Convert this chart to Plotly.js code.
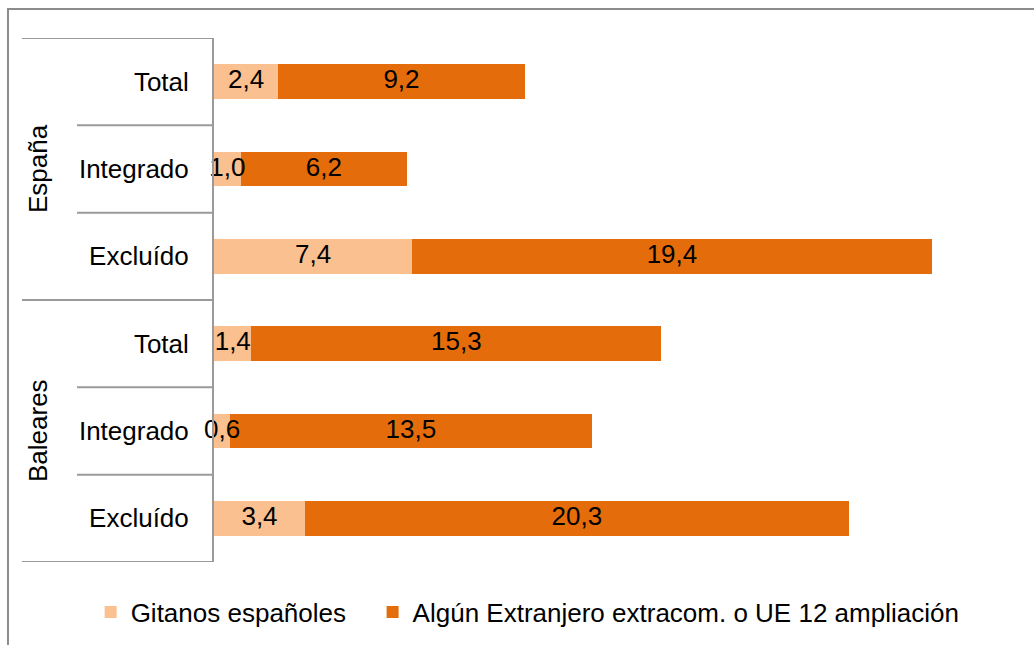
<!DOCTYPE html>
<html>
<head>
<meta charset="utf-8">
<script src="https://cdn.plot.ly/plotly-3.0.1.min.js"></script>
<style>html,body{margin:0;padding:0;background:#fff;}#chart{width:1034px;height:645px;}</style>
</head>
<body>
<div id="chart"></div>
<script>
// Data (top to bottom)
const categories = ["España|Total", "España|Integrado", "España|Excluído", "Baleares|Total", "Baleares|Integrado", "Baleares|Excluído"];
const categoryLabels = ["Total", "Integrado", "Excluído", "Total", "Integrado", "Excluído"];
const groups = ["España", "Baleares"];
const groupCenters = [1, 4];
const seriesNames = ["Gitanos españoles", "Algún Extranjero extracom. o UE 12 ampliación"];
const gitanos = [2.4, 1.0, 7.4, 1.4, 0.6, 3.4];
const extranjero = [9.2, 6.2, 19.4, 15.3, 13.5, 20.3];

const FONT = "Liberation Sans, Arial, sans-serif";
const FS = 26;
const lineColor = "#9a9a9a";

const fmt = v => v.toFixed(1).replace(".", ",");

const traces = [
  {type: "bar", orientation: "h", y: categories, x: gitanos, name: seriesNames[0],
   marker: {color: "#FAC090"}, hoverinfo: "skip", legend: "legend"},
  {type: "bar", orientation: "h", y: categories, x: extranjero, name: seriesNames[1],
   marker: {color: "#E46C0A"}, hoverinfo: "skip", legend: "legend2"},
  // data labels on top of all bars (centred in each segment)
  {type: "scatter", mode: "text", y: categories, x: gitanos.map(g => g / 2),
   text: gitanos.map(fmt), textposition: "middle center", showlegend: false,
   cliponaxis: false, hoverinfo: "skip", textfont: {family: FONT, size: FS, color: "#000"}},
  {type: "scatter", mode: "text", y: categories, x: extranjero.map((e, i) => gitanos[i] + e / 2),
   text: extranjero.map(fmt), textposition: "middle center", showlegend: false,
   cliponaxis: false, hoverinfo: "skip", textfont: {family: FONT, size: FS, color: "#000"}}
];

// separators (paper x, category index y)
const shapes = [];
const gx = -0.2397, cx = -0.171;
[-0.5, 2.5, 5.5].forEach(v => shapes.push({type: "line", xref: "paper", yref: "y", x0: gx, x1: 0, y0: v, y1: v, line: {color: lineColor, width: 2}}));
[0.5, 1.5, 3.5, 4.5].forEach(v => shapes.push({type: "line", xref: "paper", yref: "y", x0: cx, x1: 0, y0: v, y1: v, line: {color: lineColor, width: 2}}));
// outer chart border (partly cropped)
shapes.push({type: "rect", xref: "paper", yref: "paper", x0: -0.2572, x1: 1.06, y0: -0.35, y1: 1.0553, line: {color: "#8c8c8c", width: 2}, fillcolor: "rgba(0,0,0,0)", layer: "below"});

const annotations = groups.map((g, i) => ({
  text: g, xref: "paper", yref: "y", x: -0.2197, y: groupCenters[i],
  textangle: -90, showarrow: false, xanchor: "center", yanchor: "middle",
  font: {family: FONT, size: FS, color: "#000"}
}));

const legendBase = {
  orientation: "h", xref: "paper", yref: "paper", y: -0.0954,
  xanchor: "left", yanchor: "middle", font: {family: FONT, size: FS, color: "#000"},
  itemwidth: 30
};

const layout = {
  width: 1034, height: 645,
  margin: {l: 214, r: 19, t: 38, b: 83, pad: 0, autoexpand: false},
  barmode: "stack", bargap: 0.6,
  paper_bgcolor: "#fff", plot_bgcolor: "#fff",
  font: {family: FONT, size: FS, color: "#000"},
  xaxis: {range: [0, 29.91], visible: false, fixedrange: true},
  yaxis: {
    type: "category", range: [5.5, -0.5], tickvals: categories, ticktext: categoryLabels,
    showline: true, linecolor: lineColor, linewidth: 2, showgrid: false, zeroline: false,
    ticks: "outside", ticklen: 18, tickcolor: "rgba(0,0,0,0)",
    tickfont: {family: FONT, size: FS, color: "#000"}, fixedrange: true
  },
  showlegend: true,
  legend: Object.assign({}, legendBase, {x: -0.154}),
  legend2: Object.assign({}, legendBase, {x: 0.198}),
  shapes: shapes, annotations: annotations
};

Plotly.newPlot("chart", traces, layout, {displayModeBar: false, staticPlot: true});
</script>
</body>
</html>
